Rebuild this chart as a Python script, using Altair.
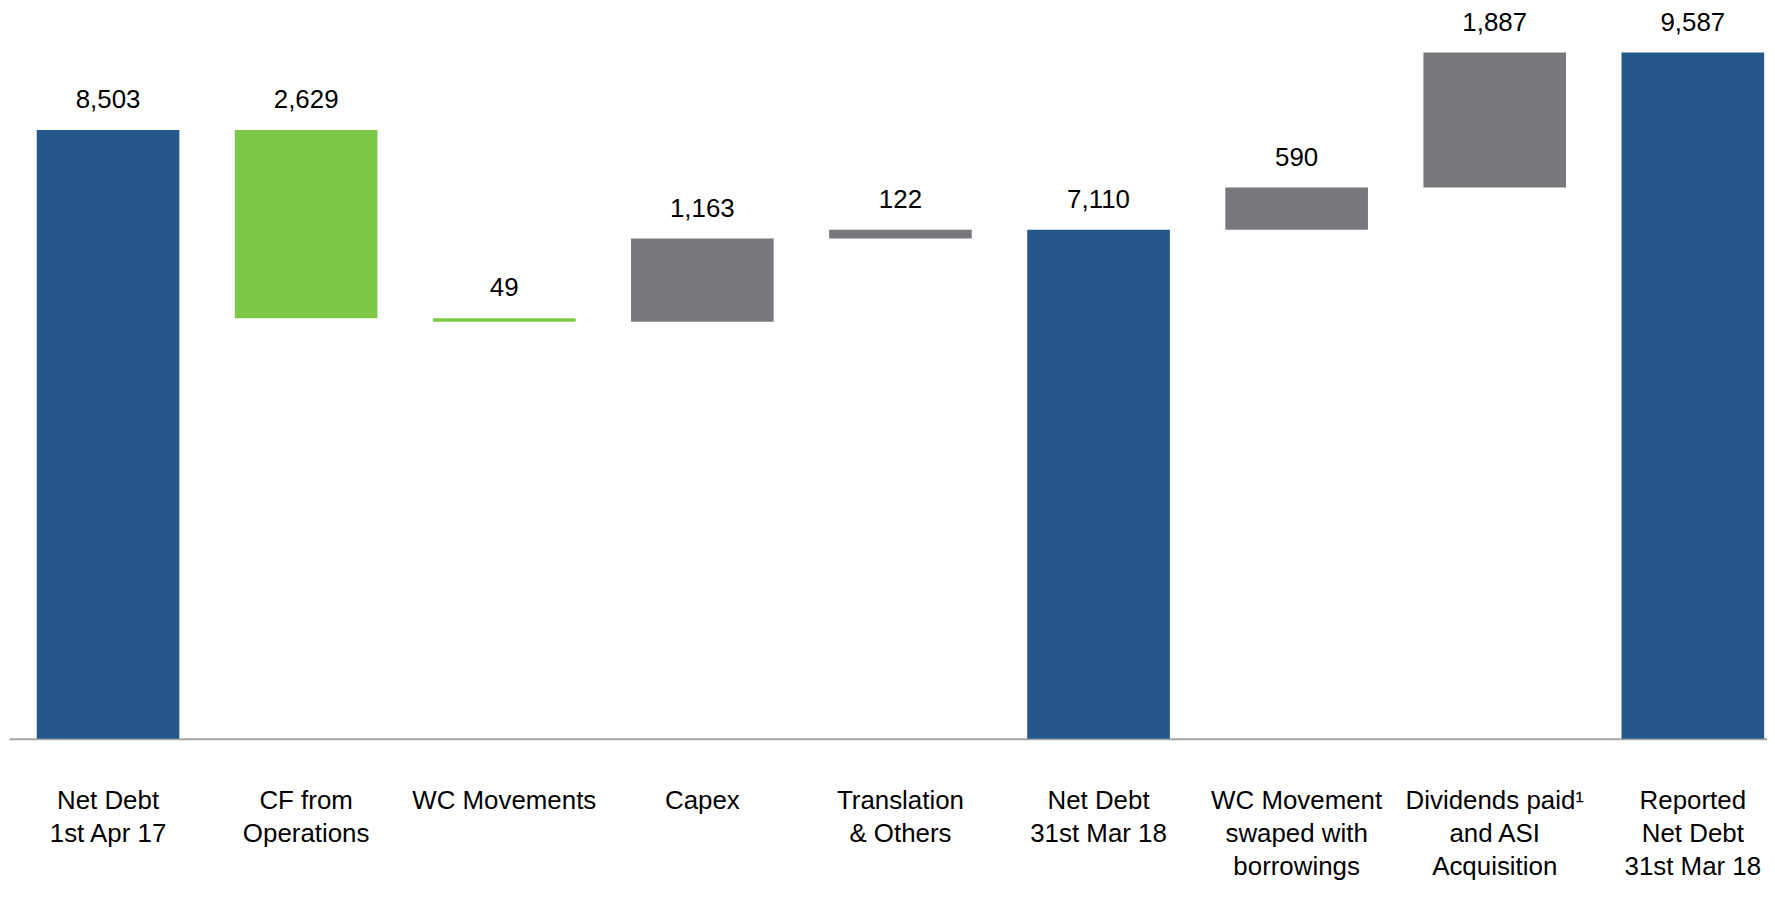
import altair as alt
import pandas as pd

categories = [
    "Net Debt\n1st Apr 17",
    "CF from\nOperations",
    "WC Movements",
    "Capex",
    "Translation\n& Others",
    "Net Debt\n31st Mar 18",
    "WC Movement\nswaped with\nborrowings",
    "Dividends paid\u00b9\nand ASI\nAcquisition",
    "Reported\nNet Debt\n31st Mar 18",
]
amounts = [8503, -2629, -49, 1163, 122, 7110, 590, 1887, 9587]
kinds = ["total", "decrease", "decrease", "increase", "increase", "total", "increase", "increase", "total"]

rows = []
running = 0
for cat, amt, kind in zip(categories, amounts, kinds):
    if kind == "total":
        start, end = 0, amt
        running = amt
    else:
        start = running
        end = running + amt
        running = end
    rows.append({
        "cat": cat,
        "start": start,
        "end": end,
        "top": max(start, end),
        "label": f"{abs(amt):,}",
        "kind": kind,
    })
df = pd.DataFrame(rows)

FONT = "Liberation Sans"

x = alt.X(
    "cat:N",
    sort=categories,
    scale=alt.Scale(paddingInner=0.28, paddingOuter=0.14, range=[0, 1791]),
    axis=alt.Axis(
        title=None,
        labelAngle=0,
        ticks=False,
        domainColor="#A6A6A6",
        domainWidth=2,
        labelFont=FONT,
        labelFontSize=26,
        labelColor="#000000",
        labelPadding=49,
        labelLineHeight=33,
        labelBaseline="top",
        labelLimit=400,
        labelOverlap=False,
        labelExpr="split(datum.label, '\\n')",
        grid=False,
    ),
)

color = alt.Color(
    "kind:N",
    scale=alt.Scale(
        domain=["total", "decrease", "increase"],
        range=["#24588B", "#7DC846", "#77787B"],
    ),
    legend=None,
)

bars = alt.Chart(df).mark_bar().encode(
    x=x,
    y=alt.Y("start:Q", scale=alt.Scale(domain=[0, 10000], nice=False), axis=None),
    y2="end:Q",
    color=color,
)

text = alt.Chart(df).mark_text(
    font=FONT, fontSize=26, color="#000000", baseline="middle", dy=-30
).encode(
    x=alt.X("cat:N", sort=categories),
    y=alt.Y("top:Q"),
    text="label:N",
)

chart = (
    alt.layer(bars, text)
    .properties(
        width=1766,
        height=719,
        autosize=alt.AutoSizeParams(type="none"),
        padding={"left": 1, "top": 13, "right": 0, "bottom": 140},
    )
    .configure(background="#FFFFFF")
    .configure_view(stroke=None, strokeWidth=0)
)

chart.save("out.html", embed_options={"renderer": "svg", "actions": False})
